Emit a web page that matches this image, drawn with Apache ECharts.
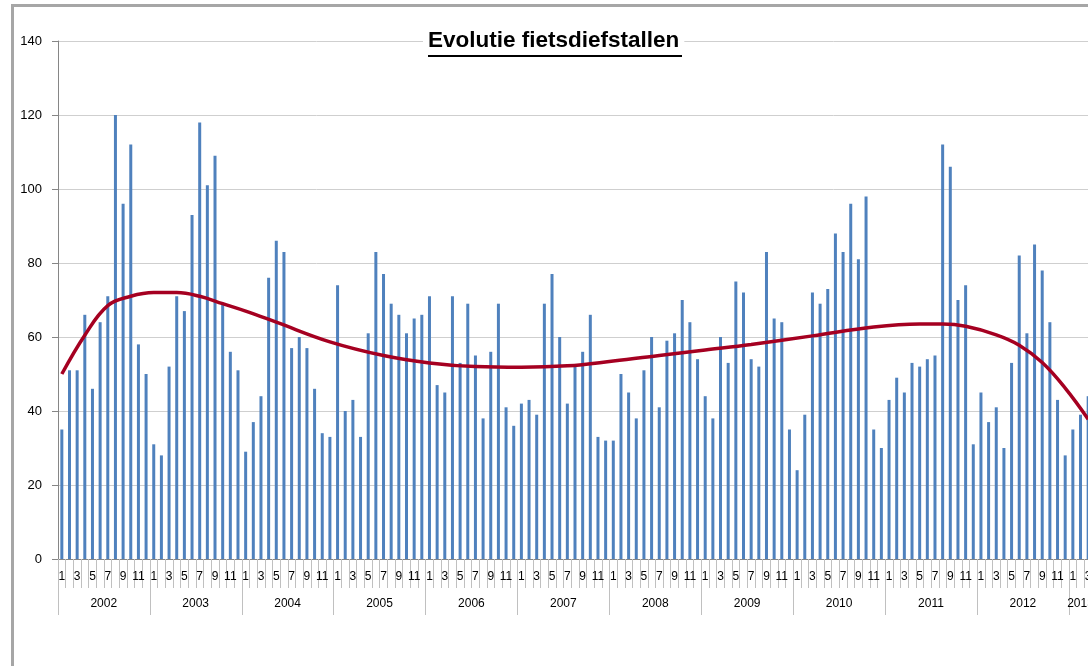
<!DOCTYPE html>
<html>
<head>
<meta charset="utf-8">
<script src="https://cdn.jsdelivr.net/npm/echarts@6/dist/echarts.min.js"></script>
<style>
  html, body { margin: 0; padding: 0; background: #fff; overflow: hidden; width: 1088px; height: 666px; }
  #frame {
    position: absolute; left: 11px; top: 4px; width: 1100px; height: 700px;
    border-left: 3px solid #a6a6a6; border-top: 3px solid #a6a6a6;
  }
  /* grafiek loopt rechts iets buiten beeld, net als het origineel */
  #eChart { position: absolute; left: 0; top: 0; width: 1092px; height: 666px; }
</style>
</head>
<body>
<div id="frame"></div>
<div id="eChart"></div>
<script>
// maandelijkse aantallen per jaar
const years = ['2002', '2003', '2004', '2005', '2006', '2007', '2008', '2009', '2010', '2011', '2012', '2013'];
const y2002 = [35, 51, 51, 66, 46, 64, 71, 120, 96, 112, 58, 50];
const y2003 = [31, 28, 52, 71, 67, 93, 118, 101, 109, 69, 56, 51];
const y2004 = [29, 37, 44, 76, 86, 83, 57, 60, 57, 46, 34, 33];
const y2005 = [74, 40, 43, 33, 61, 83, 77, 69, 66, 61, 65, 66];
const y2006 = [71, 47, 45, 71, 53, 69, 55, 38, 56, 69, 41, 36];
const y2007 = [42, 43, 39, 69, 77, 60, 42, 52, 56, 66, 33, 32];
const y2008 = [32, 50, 45, 38, 51, 60, 41, 59, 61, 70, 64, 54];
const y2009 = [44, 38, 60, 53, 75, 72, 54, 52, 83, 65, 64, 35];
const y2010 = [24, 39, 72, 69, 73, 88, 83, 96, 81, 98, 35, 30];
const y2011 = [43, 49, 45, 53, 52, 54, 55, 112, 106, 70, 74, 31];
const y2012 = [45, 37, 41, 30, 53, 82, 61, 85, 78, 64, 43, 28];
const y2013 = [35, 39, 44];

const trend = [
  [0, 50], [3, 60.5], [6, 68.5], [9, 71], [12, 72], [15, 72], [18, 71], [21, 69],
  [24, 67], [28, 64], [35, 58.7], [42, 55], [48, 53], [54, 52], [60, 51.8], [66, 52.2],
  [72, 53.5], [78, 55], [84, 56.5], [90, 58], [98, 60.3], [106, 62.7], [112, 63.5],
  [115, 63.5], [118, 62.9], [122, 60.6], [125, 57.8], [128, 53.1], [131, 46.2], [134, 37.8]
];

const perYear = [y2002, y2003, y2004, y2005, y2006, y2007, y2008, y2009, y2010, y2011, y2012, y2013];
let categories = [];
let values = [];
perYear.forEach(function (arr, yi) {
  arr.forEach(function (v, mi) {
    categories.push(years[yi] + '-' + (mi + 1));
    values.push(v);
  });
});

const fontFam = 'Liberation Sans';
let myChart = echarts.init(document.getElementById('eChart'));
let option = {
  animation: false,
  backgroundColor: 'transparent',
  title: {
    text: 'Evolutie fietsdiefstallen',
    left: 423,
    top: 27,
    padding: [2, 5, 2, 5],
    backgroundColor: '#fff',
    textStyle: { fontFamily: fontFam, fontSize: 22.5, fontWeight: 'bold', color: '#000' }
  },
  graphic: [
    { type: 'rect', shape: { x: 428, y: 55, width: 254, height: 2 }, style: { fill: '#000' }, z: 100 }
  ],
  grid: { left: 58, right: 0, top: 41, bottom: 107, containLabel: false, outerBoundsMode: 'none' },
  xAxis: [
    {
      type: 'category',
      data: categories,
      boundaryGap: true,
      axisLine: { lineStyle: { color: '#868686', width: 1 } },
      axisTick: { show: true, interval: 0, length: 29, lineStyle: { color: '#c0c0c0' } },
      axisLabel: {
        interval: 1,
        margin: 12,
        fontFamily: fontFam, fontSize: 12, color: '#000',
        formatter: function (v) { return v.split('-')[1]; }
      },
      splitLine: { show: false }
    },
    {
      type: 'category',
      data: categories,
      position: 'bottom',
      boundaryGap: true,
      axisLine: { show: false },
      axisTick: {
        show: true, length: 56, lineStyle: { color: '#c0c0c0' },
        interval: function (i) { return i % 12 === 0; }
      },
      axisLabel: {
        margin: 39,
        fontFamily: fontFam, fontSize: 12, color: '#000',
        interval: function (i) { return i % 12 === 6 || i === 133; },
        formatter: function (v, i) {
          let y = v.split('-')[0];
          return i === 133 ? '{n|' + y + '}' : '{s|' + y + '}';
        },
        rich: {
          s: { fontFamily: fontFam, fontSize: 12, color: '#000', padding: [0, 8, 0, 0] },
          n: { fontFamily: fontFam, fontSize: 12, color: '#000' }
        }
      }
    }
  ],
  yAxis: {
    type: 'value',
    min: 0, max: 140, interval: 20,
    axisLine: { show: true, lineStyle: { color: '#868686' } },
    axisTick: { show: true, length: 6, lineStyle: { color: '#868686' } },
    axisLabel: { margin: 16, fontFamily: fontFam, fontSize: 13, color: '#000' },
    splitLine: { lineStyle: { color: '#cfcfcf' } }
  },
  series: [
    {
      name: 'fietsdiefstallen',
      type: 'bar',
      barWidth: 3,
      itemStyle: { color: '#4f81bd' },
      data: values
    },
    {
      name: 'trend',
      type: 'line',
      smooth: 0.4,
      showSymbol: false,
      symbol: 'none',
      lineStyle: { color: '#a50021', width: 3.5 },
      z: 5,
      data: trend
    }
  ]
};
myChart.setOption(option);
</script>
</body>
</html>
